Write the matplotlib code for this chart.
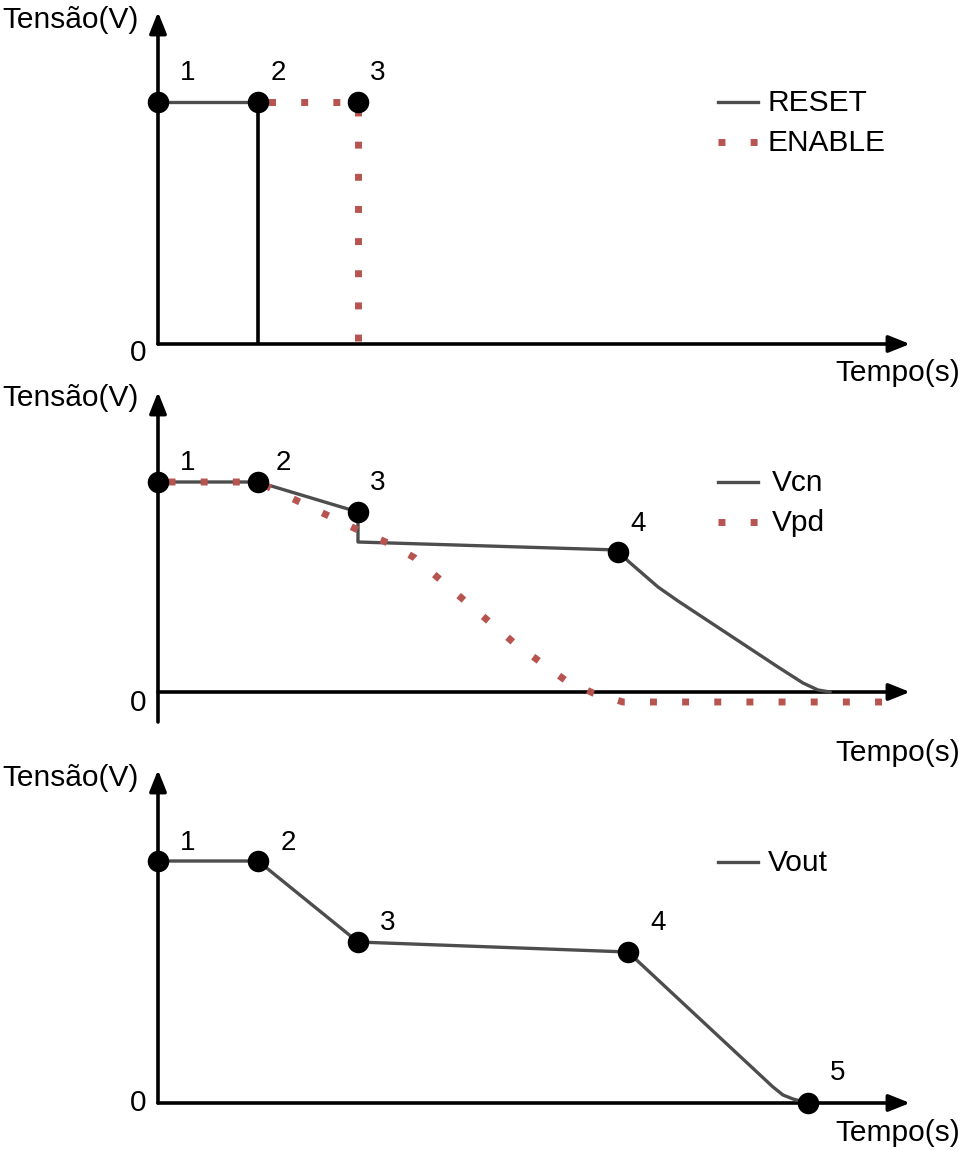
import matplotlib
matplotlib.use("Agg")
import matplotlib.pyplot as plt
from matplotlib.collections import LineCollection

plt.rcParams['font.family'] = ['Liberation Sans', 'DejaVu Sans']

# ---------------- data (time units, voltage units) ----------------
# Panel 1
reset_t = [0, 1, 1]
reset_v = [2.42, 2.42, 0.0]
enable_t = [1, 2, 2]
enable_v = [2.42, 2.42, 0.0]
p1_mark_t = [0, 1, 2]
p1_mark_v = [2.42, 2.42, 2.42]
p1_labels = ["1", "2", "3"]

# Panel 2
vcn_t = [0, 1, 2, 2, 4.6, 4.7, 5.0, 5.2, 6.2, 6.45, 6.6, 6.72]
vcn_v = [2.10, 2.10, 1.80, 1.50, 1.42, 1.31, 1.05, 0.91, 0.25, 0.09, 0.02, 0.0]
vpd_t = [0, 1, 2, 2.3, 2.57, 3.07, 3.55, 4.07, 4.35, 4.65, 7.42]
vpd_v = [2.10, 2.10, 1.62, 1.49, 1.34, 0.91, 0.50, 0.12, -0.01, -0.10, -0.10]
p2_mark_t = [0, 1, 2, 4.6]
p2_mark_v = [2.10, 2.10, 1.80, 1.40]
p2_labels = ["1", "2", "3", "4"]

# Panel 3
vout_t = [0, 1, 2, 4.7, 6.15, 6.25, 6.35, 6.5]
vout_v = [2.42, 2.42, 1.61, 1.51, 0.16, 0.08, 0.04, 0.0]
p3_mark_t = [0, 1, 2, 4.7, 6.5]
p3_mark_v = [2.42, 2.42, 1.61, 1.51, 0.0]
p3_labels = ["1", "2", "3", "4", "5"]

ylabel = "Tensão(V)"
xlabel = "Tempo(s)"

# ---------------- style ----------------
GRAY = '#4d4d4d'
RED = '#b85450'
DOT_LW = 5.0
DOT_STYLE = (3.11, (1, 3.63))
LEG_DOT_STYLE = (0, (1, 3.63))
FS = 21.5
FS_NUM = 20

fig = plt.figure(figsize=(9.61, 11.5), dpi=100)
W, H = 961, 1150
XLIM = (-1.58, 8.03)


def make_axes(top_px, bot_px, origin_px):
    ax = fig.add_axes([0, 1 - bot_px / H, 1, (bot_px - top_px) / H])
    ax.set_xlim(*XLIM)
    ax.set_ylim((origin_px - bot_px) / 100, (origin_px - top_px) / 100)
    ax.axis('off')
    return ax


def axes_arrows(ax, ybot, ytop, xtip):
    ap = dict(arrowstyle='-|>,head_length=0.8,head_width=0.32', lw=2.6,
              color='black', shrinkA=0, shrinkB=0, mutation_scale=16)
    ax.annotate('', xy=(0, ytop), xytext=(0, ybot), arrowprops=ap, zorder=3)
    ax.annotate('', xy=(xtip, 0), xytext=(0, 0), arrowprops=ap, zorder=3)


def markers(ax, ts, vs, labels, dx, dy):
    ax.plot(ts, vs, 'o', color='black', ms=14.5, zorder=6, clip_on=False)
    for t, v, lab, ddx, ddy in zip(ts, vs, labels, dx, dy):
        ax.text(t + ddx, v + ddy, lab, fontsize=FS_NUM, ha='center', va='center')


def frame_texts(ax, ylab_v, zero_v, xlab_v):
    ax.text(-1.56, ylab_v, ylabel, fontsize=FS, ha='left', va='center')
    ax.text(-0.2, zero_v, "0", fontsize=FS, ha='center', va='center')
    ax.text(8.02, xlab_v, xlabel, fontsize=FS, ha='right', va='center')


# ---------------- Panel 1 ----------------
ax1 = make_axes(0, 383, 344)
axes_arrows(ax1, 0, 3.32, 7.52)
reset_segs = [[(reset_t[i], reset_v[i]), (reset_t[i + 1], reset_v[i + 1])]
              for i in range(len(reset_t) - 1)]
ax1.add_collection(LineCollection(reset_segs, colors=[GRAY, 'black'],
                                  linewidths=[2.4, 2.6], zorder=4))
ax1.plot(enable_t, enable_v, color=RED, lw=DOT_LW, linestyle=DOT_STYLE, zorder=4)
markers(ax1, p1_mark_t, p1_mark_v, p1_labels, [0.3, 0.2, 0.2], [0.29, 0.29, 0.29])
ax1.plot([5.6, 6.0], [2.42, 2.42], color=GRAY, lw=2.4)
ax1.text(6.1, 2.41, "RESET", fontsize=FS, ha='left', va='center')
ax1.plot([5.6, 6.0], [2.02, 2.02], color=RED, lw=DOT_LW, linestyle=LEG_DOT_STYLE)
ax1.text(6.1, 2.01, "ENABLE", fontsize=FS, ha='left', va='center')
frame_texts(ax1, 3.24, -0.09, -0.29)

# ---------------- Panel 2 ----------------
ax2 = make_axes(383, 765, 692)
axes_arrows(ax2, -0.30, 3.00, 7.52)
ax2.plot(vcn_t, vcn_v, color=GRAY, lw=2.4, zorder=4)
ax2.plot(vpd_t, vpd_v, color=RED, lw=DOT_LW, linestyle=DOT_STYLE, zorder=5)
markers(ax2, p2_mark_t, p2_mark_v, p2_labels, [0.3, 0.25, 0.2, 0.2], [0.19, 0.19, 0.29, 0.28])
ax2.plot([5.6, 6.0], [2.10, 2.10], color=GRAY, lw=2.4)
ax2.text(6.14, 2.09, "Vcn", fontsize=FS, ha='left', va='center')
ax2.plot([5.6, 6.0], [1.70, 1.70], color=RED, lw=DOT_LW, linestyle=LEG_DOT_STYLE)
ax2.text(6.14, 1.69, "Vpd", fontsize=FS, ha='left', va='center')
frame_texts(ax2, 2.94, -0.11, -0.61)

# ---------------- Panel 3 ----------------
ax3 = make_axes(765, 1150, 1103)
axes_arrows(ax3, 0, 3.33, 7.52)
ax3.plot(vout_t, vout_v, color=GRAY, lw=2.4, zorder=4)
markers(ax3, p3_mark_t, p3_mark_v, p3_labels, [0.3, 0.3, 0.3, 0.3, 0.3], [0.18, 0.18, 0.19, 0.29, 0.30])
ax3.plot([5.6, 6.0], [2.41, 2.41], color=GRAY, lw=2.4)
ax3.text(6.1, 2.40, "Vout", fontsize=FS, ha='left', va='center')
frame_texts(ax3, 3.25, 0.0, -0.30)

fig.savefig("out.png", dpi=100)
